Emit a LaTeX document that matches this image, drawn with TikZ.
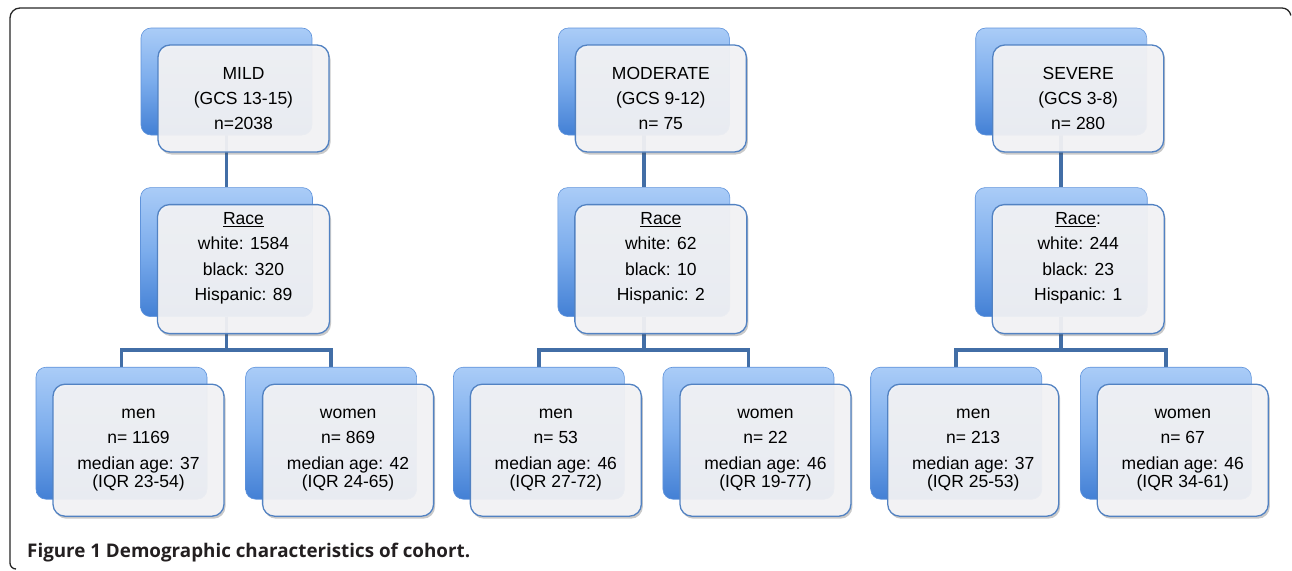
\documentclass[tikz,border=0pt]{standalone}
\usepackage{fontspec}
\setmainfont{Liberation Sans}
\newfontfamily\capfont{Open Sans}
\usepackage{tikz}
\usetikzlibrary{positioning,calc,backgrounds,shadows}
\definecolor{bktop}{HTML}{AACCF7}
\definecolor{bkmid}{HTML}{7BACEC}
\definecolor{bkbot}{HTML}{4380D5}
\definecolor{frfill}{HTML}{F5F5F7}
\definecolor{frline}{HTML}{5282C2}
\definecolor{linkcol}{HTML}{426EA6}
\definecolor{capcol}{HTML}{231F20}
\newcommand{\bxfont}{\fontsize{17.5}{25}\selectfont}
\tikzset{%
    bk/.style={rectangle,rounded corners=10pt,top color=bktop,bottom color=bkbot,middle color=bkmid,draw=bkbot!85!white,line width=.6pt},
    fr/.style={rectangle,rounded corners=12pt,draw=frline,line width=1.3pt,fill=frfill,fill opacity=.93,text opacity=1,
        align=center,inner sep=3pt,font=\bxfont,
        drop shadow={shadow xshift=1.5pt,shadow yshift=-2.5pt,opacity=.3,fill=black!70}},
    hd/.style={minimum width=171pt,minimum height=107pt},
    rc/.style={minimum width=172pt,minimum height=129pt},
    sx/.style={minimum width=171pt,minimum height=132pt},
    link/.style={draw=linkcol,line width=3.5pt},
}
\tikzstyle{frame}=[draw=black!85,line width=1.3pt]

\begin{document}
\begin{tikzpicture}[x=1pt,y=1pt]
      \useasboundingbox (0,0) rectangle (1292,-570);
      \draw[frame] (16,-569) arc[start angle=270,end angle=180,radius=6] -- (10,-18)
            arc[start angle=180,end angle=90,radius=10] -- (1282,-8) arc[start angle=90,end angle=10,radius=9];

      % severity groups
      \node[bk,hd] (mild) at (226.5,-81.5) {};
      \node[bk,hd,right=245.75pt of mild] (mod) {};
      \node[bk,hd,right=245.75pt of mod] (sev) {};
      % race
      \node[bk,rc,below=52pt of mild] (mildrace) {};
      \node[bk,rc,below=52pt of mod] (modrace) {};
      \node[bk,rc,below=52pt of sev] (sevrace) {};
      % men / women
      \node[bk,sx,below=50pt of mildrace,xshift=-105pt] (mildmen) {};
      \node[bk,sx,right=38pt of mildmen] (mildwomen) {};
      \node[bk,sx,below=50pt of modrace,xshift=-105pt] (modmen) {};
      \node[bk,sx,right=38pt of modmen] (modwomen) {};
      \node[bk,sx,below=50pt of sevrace,xshift=-105pt] (sevmen) {};
      \node[bk,sx,right=38pt of sevmen] (sevwomen) {};

      % front cards
      \node[fr,hd] (mild-f) at ([shift={(17pt,-17pt)}]mild.center) {MILD\\(GCS 13-15)\\n=2038};
      \node[fr,hd] (mod-f) at ([shift={(17pt,-17pt)}]mod.center) {MODERATE\\(GCS 9-12)\\n= 75};
      \node[fr,hd] (sev-f) at ([shift={(17pt,-17pt)}]sev.center) {SEVERE\\(GCS 3-8)\\n= 280};
      \node[fr,rc] (mildrace-f) at ([shift={(17pt,-17pt)}]mildrace.center) {\underline{Race}\\white: 1584\\[1pt]black: 320\\Hispanic: 89\\\mbox{}};
      \node[fr,rc] (modrace-f) at ([shift={(17pt,-17pt)}]modrace.center) {\underline{Race}\\white: 62\\[1pt]black: 10\\Hispanic: 2\\\mbox{}};
      \node[fr,rc] (sevrace-f) at ([shift={(17pt,-17pt)}]sevrace.center) {\underline{Race}:\\white: 244\\[1pt]black: 23\\Hispanic: 1\\\mbox{}};
      \node[fr,sx] (mildmen-f) at ([shift={(17pt,-17pt)}]mildmen.center) {men\\n= 1169\\[1pt]median age: 37\\[-7pt](IQR 23-54)};
      \node[fr,sx] (mildwomen-f) at ([shift={(17pt,-17pt)}]mildwomen.center) {women\\n= 869\\[1pt]median age: 42\\[-7pt](IQR 24-65)};
      \node[fr,sx] (modmen-f) at ([shift={(17pt,-17pt)}]modmen.center) {men\\n= 53\\[1pt]median age: 46\\[-7pt](IQR 27-72)};
      \node[fr,sx] (modwomen-f) at ([shift={(17pt,-17pt)}]modwomen.center) {women\\n= 22\\[1pt]median age: 46\\[-7pt](IQR 19-77)};
      \node[fr,sx] (sevmen-f) at ([shift={(17pt,-17pt)}]sevmen.center) {men\\n= 213\\[1pt]median age: 37\\[-7pt](IQR 25-53)};
      \node[fr,sx] (sevwomen-f) at ([shift={(17pt,-17pt)}]sevwomen.center) {women\\n= 67\\[1pt]median age: 46\\[-7pt](IQR 34-61)};

      % connectors behind the cards
      \begin{pgfonlayer}{background}
      \draw[link] (mild) -- (mildrace);
      \draw[link] (mod) -- (modrace);
      \draw[link] (sev) -- (sevrace);
      \draw[link] (mildrace.south) -- ++(0,-33pt) -| (mildmen.north);
      \draw[link] (mildrace.south) -- ++(0,-33pt) -| (mildwomen.north);
      \draw[link] (modrace.south) -- ++(0,-33pt) -| (modmen.north);
      \draw[link] (modrace.south) -- ++(0,-33pt) -| (modwomen.north);
      \draw[link] (sevrace.south) -- ++(0,-33pt) -| (sevmen.north);
      \draw[link] (sevrace.south) -- ++(0,-33pt) -| (sevwomen.north);
      \end{pgfonlayer}

      \node[anchor=base west,inner sep=0pt,text=capcol,font=\capfont\bfseries\fontsize{18.8}{22}\selectfont] (cap) at (27,-557)
            {Figure 1 Demographic characteristics of cohort.};
\end{tikzpicture}
\end{document}
